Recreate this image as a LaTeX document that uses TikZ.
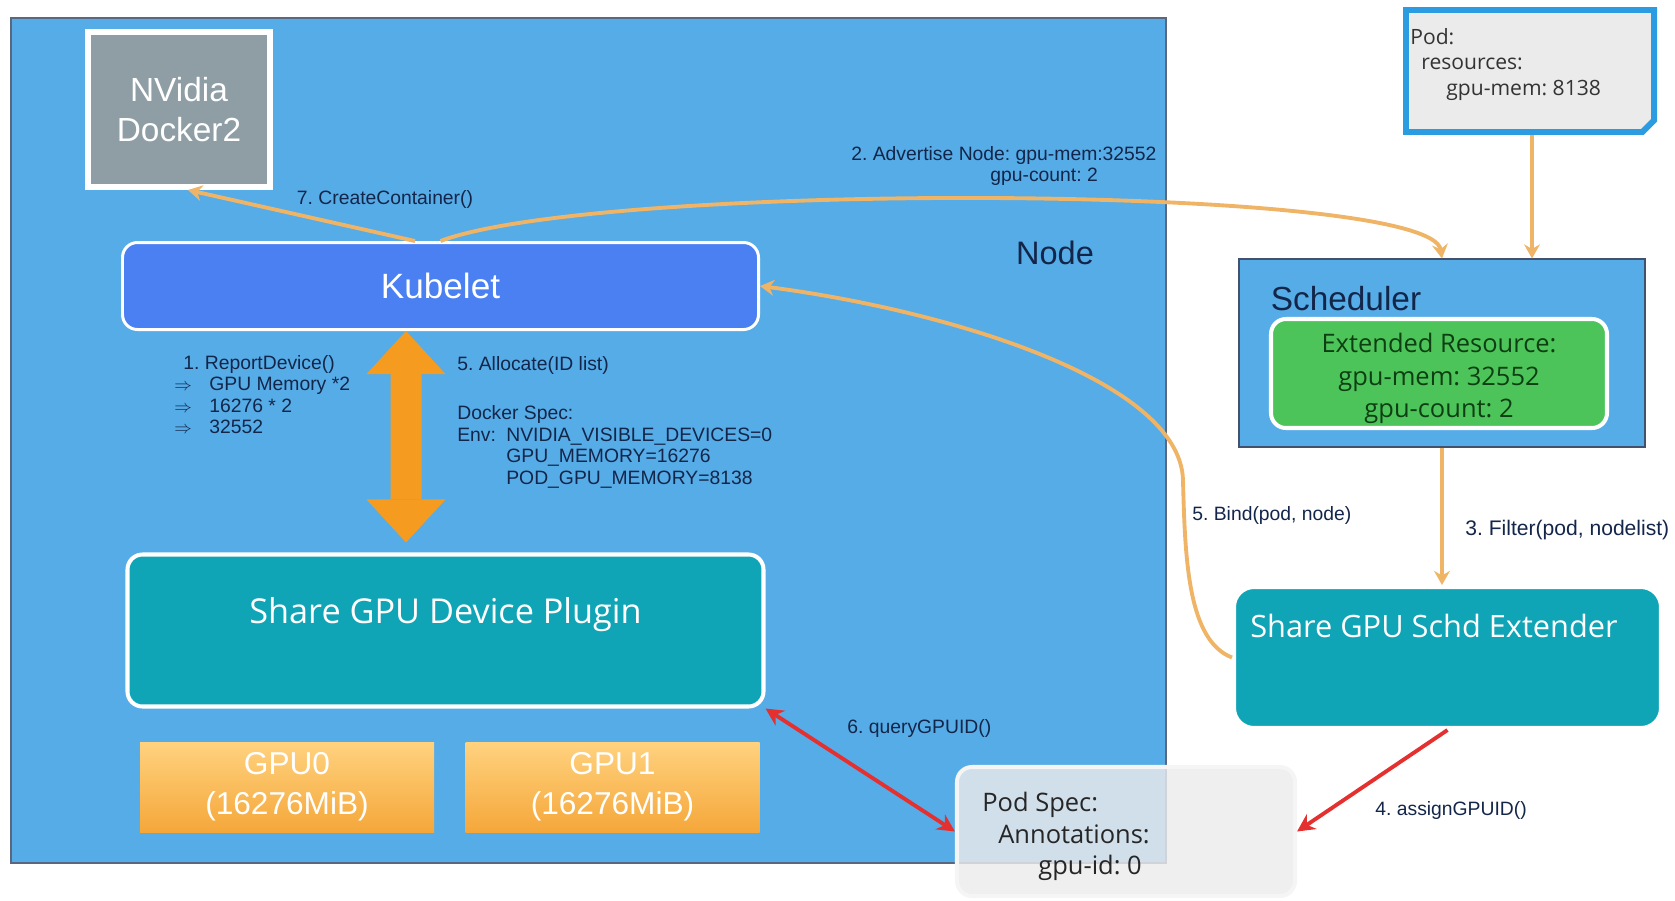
\documentclass[tikz,border=0pt]{standalone}
\usepackage{fontspec}
\setmainfont{Liberation Sans}
\newfontfamily\segoe{Open Sans}
\usetikzlibrary{arrows.meta,shapes.misc}
\frenchspacing

\definecolor{nodeblue}{HTML}{56ACE7}
\definecolor{kubeblue}{HTML}{4A80F2}
\definecolor{plugteal}{HTML}{0FA4B6}
\definecolor{dockergray}{HTML}{8F9EA5}
\definecolor{sandy}{HTML}{EFB466}
\definecolor{bigorange}{HTML}{F49B20}
\definecolor{callred}{HTML}{E53030}
\definecolor{extgreen}{HTML}{4CC45A}
\definecolor{darkgreen}{HTML}{0E3F12}
\definecolor{navy}{HTML}{13264A}
\definecolor{paper}{HTML}{EBEBEB}
\definecolor{noteblue}{HTML}{2B9BE2}
\definecolor{gpulight}{HTML}{FFD27F}
\definecolor{gpudark}{HTML}{F5A73A}

\newcommand{\thenarrow}{\makebox[0.7cm][l]{\fontsize{10}{10}\selectfont$\Rightarrow$}}

\begin{document}
\begin{tikzpicture}[
        whitebox/.style = {draw=white, line width=2.3pt, rounded corners=0.3cm, inner sep=0pt},
        steplabel/.style = {text=navy, font=\fontsize{11}{12.2}\selectfont, align=left, inner sep=0pt},
        gpubox/.style = {top color=gpulight, bottom color=gpudark, minimum width=5.88cm, minimum height=1.8cm, text=white, font=\fontsize{18}{22.8}\selectfont, align=center},
        sandyarrow/.style = {draw=sandy, line width=2.2pt, >={Stealth[length=8pt,width=9pt]}, ->},
        redarrow/.style = {draw=callred, line width=2.2pt, >={Stealth[length=10pt,width=10pt]}, ->}
    ]

    \useasboundingbox (0,0) rectangle (33.5,-18);

    \node[draw=navy!70, line width=0.6pt, fill=nodeblue, minimum width=23.1cm, minimum height=16.9cm] (nodebox) at (11.77,-8.81) {};
    \node[text=navy, font=\fontsize{18.5}{20}\selectfont] (nodename) at (21.1,-5.06) {Node};

    \node[draw=white, line width=3.4pt, fill=dockergray, minimum width=3.64cm, minimum height=3.1cm, text=white, font=\fontsize{19}{22.8}\selectfont, align=center] (docker) at (3.58,-2.19) {NVidia\\Docker2};

    \node[whitebox, line width=1.7pt, fill=kubeblue, minimum width=12.72cm, minimum height=1.74cm, text=white, font=\fontsize{20}{24}\selectfont] (kubelet) at (8.81,-5.72) {Kubelet};

    \node[whitebox, fill=plugteal, minimum width=12.72cm, minimum height=3.04cm] (plugin) at (8.91,-12.61) {};
    \node[anchor=base, inner sep=0pt, text=white, font=\segoe\fontsize{19.5}{22}\selectfont] (plugintext) at ([yshift=-1.43cm]plugin.north) {Share GPU Device Plugin};

    \node[gpubox] (gpu0) at (5.74,-15.74) {GPU0\\(16276MiB)};
    \node[gpubox] (gpu1) at (12.25,-15.74) {GPU1\\(16276MiB)};

    \node[chamfered rectangle, chamfered rectangle corners=south east, chamfered rectangle xsep=0.35cm, draw=noteblue, line width=3.4pt, fill=paper, minimum width=4.96cm, minimum height=2.44cm] (podnote) at (30.6,-1.42) {};
    \node[anchor=north west, inner sep=0pt, align=left, text=black!80, font=\segoe\fontsize{12}{14.5}\selectfont] (podnotetext) at ([xshift=0.14cm,yshift=-0.42cm]podnote.north west) {Pod:\\\hspace*{0.22cm}resources:\\\hspace*{0.72cm}gpu-mem: 8138};

    \node[draw=navy!80, line width=0.6pt, fill=nodeblue, minimum width=8.12cm, minimum height=3.76cm] (scheduler) at (28.84,-7.06) {};
    \node[anchor=base west, inner sep=0pt, text=navy, font=\fontsize{19}{22}\selectfont] (schedtext) at ([xshift=0.64cm,yshift=-1.05cm]scheduler.north west) {Scheduler};
    \node[whitebox, fill=extgreen, minimum width=6.72cm, minimum height=2.18cm] (extres) at (28.78,-7.47) {};
    \node[text=darkgreen, inner sep=0pt, font=\segoe\fontsize{14.5}{18.5}\selectfont, align=center] (extrestext) at ([yshift=-0.1cm]extres.center) {Extended Resource:\\gpu-mem: 32552\\gpu-count: 2};

    \node[whitebox, rounded corners=0.4cm, fill=plugteal, minimum width=8.54cm, minimum height=2.82cm] (extender) at (28.95,-13.15) {};
    \node[anchor=base west, inner sep=0pt, text=white, font=\segoe\fontsize{17.5}{20}\selectfont] (extendertext) at ([xshift=0.36cm,yshift=-1.06cm]extender.north west) {Share GPU Schd Extender};

    \node[draw=white!92!gray, line width=2.3pt, rounded corners=0.3cm, fill=paper, fill opacity=0.82, minimum width=6.76cm, minimum height=2.58cm] (podspec) at (22.52,-16.63) {};
    \node[anchor=north west, inner sep=0pt, align=left, text=black!85, font=\segoe\fontsize{14.5}{17.9}\selectfont] (podspectext) at ([xshift=0.54cm,yshift=-0.54cm]podspec.north west) {Pod Spec:\\\hspace*{0.32cm}Annotations:\\\hspace*{1.12cm}gpu-id: 0};

    \node[steplabel, anchor=north west] (advertise) at (17.02,-2.92) {2. Advertise Node: gpu-mem:32552\\\hspace*{2.78cm}gpu-count: 2};
    \node[steplabel] (create) at (7.7,-3.98) {7. CreateContainer()};
    \node[steplabel, anchor=north west] (report) at (3.48,-7.1) {\hspace*{0.18cm}1. ReportDevice()\\\thenarrow GPU Memory *2\\\thenarrow 16276 * 2\\\thenarrow 32552};
    \node[steplabel, anchor=north west] (allocate) at (9.14,-7.12) {5. Allocate(ID list)\\[16pt]Docker Spec:\\\makebox[0.98cm][l]{Env:}NVIDIA\_VISIBLE\_DEVICES=0\\\hspace*{0.98cm}GPU\_MEMORY=16276\\\hspace*{0.98cm}POD\_GPU\_MEMORY=8138};
    \node[steplabel, anchor=west] (bind) at (23.84,-10.3) {5. Bind(pod, node)};
    \node[steplabel, anchor=west, font=\fontsize{12}{14}\selectfont] (filter) at (29.3,-10.6) {3. Filter(pod, nodelist)};
    \node[steplabel, anchor=west] (assign) at (27.5,-16.2) {4. assignGPUID()};
    \node[steplabel, anchor=west] (query) at (16.94,-14.56) {6. queryGPUID()};

    \draw[draw=bigorange, line width=0.62cm, {Triangle[width=1.58cm,length=0.86cm,line width=0pt]}-{Triangle[width=1.58cm,length=0.86cm,line width=0pt]}] ([xshift=-0.69cm]kubelet.south) -- ([xshift=-0.79cm,yshift=0.2cm]plugin.north);

    \draw[sandyarrow] ([xshift=-0.51cm]kubelet.north) -- ([xshift=0.18cm]docker.south);
    \draw[sandyarrow] (kubelet.north) .. controls +(3.2,1.2) and +(-0.22,1.5) .. (scheduler.north);
    \draw[sandyarrow] ([xshift=0.04cm]podnote.south) -- ([xshift=0.04cm]podnote.south |- scheduler.north);
    \draw[sandyarrow] (scheduler.south) -- (scheduler.south |- extender.north);
    \coordinate (bindbend) at (23.66,-9.6);
    \draw[sandyarrow] (extender.west) .. controls +(-0.88,0.34) and +(0.04,-1.6) .. (bindbend) .. controls +(-0.06,2) and +(3.72,-0.48) .. (kubelet.east);

    \draw[redarrow] (extender.south) -- (podspec.east);
    \draw[redarrow, <->] (plugin.south east) -- (podspec.west);

\end{tikzpicture}
\end{document}
